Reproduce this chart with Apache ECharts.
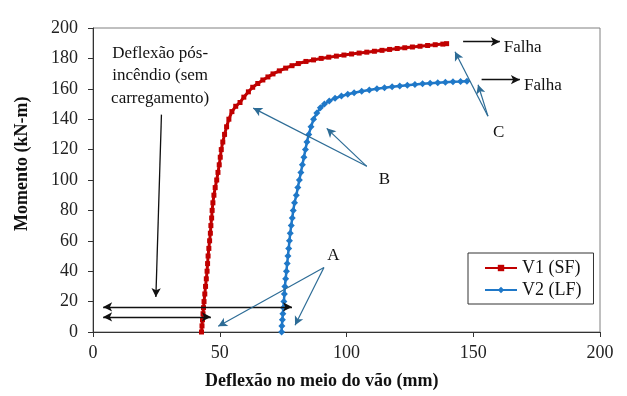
<!DOCTYPE html>
<html>
<head>
    <meta charset="utf-8">
    <script src="https://cdn.jsdelivr.net/npm/echarts@6/dist/echarts.min.js"></script>
    <style>
    html, body { margin: 0; padding: 0; background: #fff; }
    #main { width: 627px; height: 396px; }
    </style>
    <title>Momento x Deflexão</title>
</head>
<body>
    <div id="main"></div>
    <script type="text/javascript">

        // V1 (SF) - deflexão (mm) e momento (kN-m)
        var v1Defl = [42.8, 43.0, 43.2, 43.4, 43.6, 43.8, 44.1, 44.4, 44.7, 45.0, 45.2, 45.4, 45.7, 46.0, 46.3, 46.5,
                      46.8, 47.0, 47.3, 47.7, 48.2, 48.8, 49.3, 49.8, 50.2, 50.6, 51.2, 51.9, 52.7, 53.6, 54.8, 56.3,
                      58.0, 59.5, 61.3, 63.0, 65.0, 67.0, 69.0, 71.0, 73.5, 76.0, 78.5, 81.0, 84.0, 87.0, 90.0, 93.0,
                      96.0, 99.0, 102, 105, 108, 111, 114, 117, 120, 123, 126, 129, 132, 135, 138, 139.5];
        var v1Mom  = [0, 4, 8, 12, 16, 20, 25, 30, 35, 40, 45, 50, 55, 60, 65, 70,
                      75, 80, 85, 90, 95, 100, 105, 110, 115, 120, 125, 130, 135, 140, 145, 148.5,
                      151, 154.5, 158, 161, 163.5, 165.8, 167.8, 169.8, 171.8, 173.6, 175.2, 176.6, 178, 179, 180, 180.8,
                      181.5, 182.2, 182.9, 183.5, 184.1, 184.7, 185.3, 185.9, 186.5, 187, 187.5, 188, 188.5, 189, 189.4, 189.7];

        // V2 (LF)
        var v2Defl = [74.4, 74.5, 74.7, 74.9, 75.1, 75.3, 75.5, 75.7, 76.0, 76.3, 76.6, 76.9, 77.2, 77.5, 77.8, 78.2,
                      78.6, 79.0, 79.5, 80.2, 80.8, 81.4, 82.0, 82.6, 83.2, 83.8, 84.4, 85.1, 86.0, 87.0, 88.3, 89.7,
                      91.3, 93.2, 95.5, 98.0, 100.5, 103, 106, 109, 112, 115, 118, 121, 124, 127, 130, 133,
                      136, 139, 142, 145, 147.5];
        var v2Mom  = [0, 4, 8, 12, 16, 20, 25, 30, 35, 40, 45, 50, 55, 60, 65, 70,
                      75, 80, 85, 90, 95, 100, 105, 110, 115, 120, 125, 130, 135, 140, 144, 147.5,
                      150, 152, 153.8, 155.2, 156.4, 157.4, 158.4, 159.2, 160, 160.7, 161.3, 161.9, 162.4, 162.9, 163.3, 163.7,
                      164, 164.3, 164.6, 164.8, 165];

        var xTicks = [0, 50, 100, 150, 200];
        var yTicks = [0, 20, 40, 60, 80, 100, 120, 140, 160, 180, 200];

        // anotações (coordenadas no sistema do gráfico)
        var blackArrows = [
            [[4, 16.5], [78.5, 16.5], 'both'],
            [[4, 9.9], [46.5, 9.9], 'both'],
            [[27, 143], [24.8, 23], 'end'],
            [[146, 191], [160.5, 191], 'end'],
            [[153.3, 166], [168.4, 166], 'end']
        ];
        var blueArrows = [
            [[91.1, 42.4], [49.4, 3.8]],
            [[91.1, 42.4], [79.7, 4.4]],
            [[108, 109], [63.2, 147.3]],
            [[108, 109], [92.2, 134]],
            [[155.8, 142], [142.8, 184.4]],
            [[155.8, 142], [151.9, 162.7]]
        ];
        var notes = [
            ['Deflexão pós-\nincêndio (sem\ncarregamento)', 26.5, 168.5],
            ['Falha', 169.5, 187.2],
            ['Falha', 177.5, 162.2],
            ['A', 94.8, 50.5],
            ['B', 115, 100],
            ['C', 160, 131]
        ];

        function zip(xs, ys) {
            return xs.map(function (x, i) { return [x, ys[i]]; });
        }

        var serif = 'Liberation Serif';
        var myChart = echarts.init(document.getElementById('main'));

        var markLines = [];
        blackArrows.forEach(function (a) {
            markLines.push([
                {coord: a[0], symbol: a[2] === 'both' ? 'arrow' : 'none', lineStyle: {color: '#111', width: 1.3, type: 'solid'}},
                {coord: a[1], symbol: 'arrow'}
            ]);
        });
        blueArrows.forEach(function (a) {
            markLines.push([
                {coord: a[0], symbol: 'none', lineStyle: {color: '#2d6c96', width: 1.2, type: 'solid'}},
                {coord: a[1], symbol: 'arrow'}
            ]);
        });

        option = {
            animation: false,
            backgroundColor: '#fff',
            grid: {
                left: 93, right: 27, top: 28, bottom: 64,
                show: true, borderColor: '#808080', borderWidth: 1
            },
            legend: {
                orient: 'vertical',
                left: 468, top: 253,
                padding: [6, 12, 5, 16],
                itemGap: 4,
                itemWidth: 32, itemHeight: 8,
                backgroundColor: '#fff',
                borderColor: '#333', borderWidth: 1,
                textStyle: {fontFamily: serif, fontSize: 18, color: '#111'},
                data: ['V1 (SF)', 'V2 (LF)']
            },
            xAxis: {
                type: 'value',
                min: xTicks[0], max: xTicks[xTicks.length - 1], interval: 50,
                axisLine: {lineStyle: {color: '#333'}},
                axisTick: {length: 5, lineStyle: {color: '#333'}},
                axisLabel: {fontFamily: serif, fontSize: 18, color: '#222', margin: 12},
                splitLine: {show: false}
            },
            yAxis: {
                type: 'value',
                min: yTicks[0], max: yTicks[yTicks.length - 1], interval: 20,
                axisLine: {show: true, lineStyle: {color: '#333'}},
                axisTick: {show: true, length: 5, lineStyle: {color: '#333'}},
                axisLabel: {fontFamily: serif, fontSize: 18, color: '#222', margin: 15},
                splitLine: {show: false}
            },
            graphic: [
                {
                    type: 'text', left: 205, top: 372,
                    style: {text: 'Deflexão no meio do vão (mm)', font: 'bold 18px "Liberation Serif"', fill: '#111'}
                },
                {
                    type: 'text', x: 13, y: 231, rotation: Math.PI / 2,
                    style: {text: 'Momento (kN-m)', font: 'bold 18px "Liberation Serif"', fill: '#111'}
                }
            ],
            series: [
                {
                    name: 'V1 (SF)',
                    type: 'line',
                    data: zip(v1Defl, v1Mom),
                    symbol: 'rect', symbolSize: 5,
                    showAllSymbol: true,
                    lineStyle: {color: '#c00000', width: 3},
                    itemStyle: {color: '#c00000'},
                    z: 3
                },
                {
                    name: 'V2 (LF)',
                    type: 'line',
                    data: zip(v2Defl, v2Mom),
                    symbol: 'diamond', symbolSize: 7,
                    showAllSymbol: true,
                    lineStyle: {color: '#1f78c8', width: 2.5},
                    itemStyle: {color: '#1f78c8'},
                    z: 3
                },
                {
                    name: 'notas',
                    type: 'line',
                    data: [],
                    silent: true,
                    z: 4,
                    markLine: {
                        silent: true,
                        animation: false,
                        symbolSize: [7, 9],
                        label: {show: false},
                        data: markLines
                    },
                    markPoint: {
                        silent: true,
                        symbol: 'circle', symbolSize: 0,
                        label: {
                            show: true, position: 'inside',
                            fontFamily: serif, fontSize: 17, lineHeight: 22.5, color: '#111',
                            formatter: function (p) { return p.name; }
                        },
                        data: notes.map(function (n) {
                            return {name: n[0], coord: [n[1], n[2]]};
                        })
                    }
                }
            ]
        };
        myChart.setOption(option);

    </script>
</body>
</html>
